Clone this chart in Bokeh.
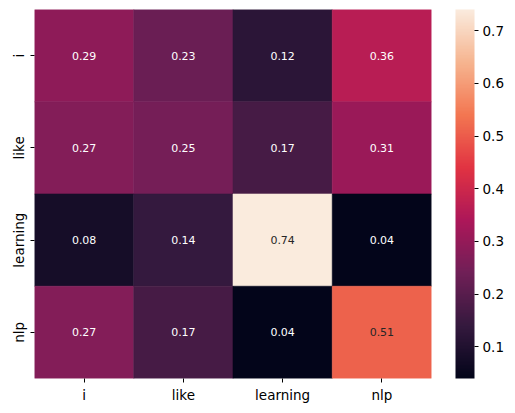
import numpy as np
from bokeh.plotting import figure
from bokeh.models import ColumnDataSource, LinearColorMapper, ColorBar, FixedTicker
from bokeh.embed import file_html
from bokeh.resources import INLINE
from bokeh.core.properties import value

# ---- data ----
tokens = ["i", "like", "learning", "nlp"]
row_i = [0.29, 0.23, 0.12, 0.36]
row_like = [0.27, 0.25, 0.17, 0.31]
row_learning = [0.08, 0.14, 0.74, 0.04]
row_nlp = [0.27, 0.17, 0.04, 0.51]
cbar_ticks = [0.1, 0.2, 0.3, 0.4, 0.5, 0.6, 0.7]

rows = [row_i, row_like, row_learning, row_nlp]

# ---- rocket-like palette ----
anchors = ["#03051a", "#35193e", "#701f57", "#ad1759", "#e13342", "#f37651", "#f6b48f", "#faebdd"]
apos = np.linspace(0, 1, len(anchors))
argb = np.array([[int(h[i:i + 2], 16) for i in (1, 3, 5)] for h in anchors], dtype=float)
t = np.linspace(0, 1, 256)
palette = []
for tt in t:
    c = [int(round(np.interp(tt, apos, argb[:, k]))) for k in range(3)]
    palette.append("#%02x%02x%02x" % tuple(c))

xs, ys, vals, labels, tcolors = [], [], [], [], []
vmin = min(min(r) for r in rows)
vmax = max(max(r) for r in rows)
for rname, r in zip(tokens, rows):
    for cname, v in zip(tokens, r):
        xs.append(cname)
        ys.append(rname)
        vals.append(v)
        labels.append("%.2f" % v)
        tcolors.append("#262626" if (v - vmin) / (vmax - vmin) > 0.6 else "white")

src = ColumnDataSource(dict(x=xs, y=ys, v=vals, lab=labels, tc=tcolors))
mapper = LinearColorMapper(palette=palette, low=vmin, high=vmax)

p = figure(x_range=tokens, y_range=list(reversed(tokens)),
           frame_width=397, frame_height=369,
           min_border_left=34, min_border_top=9, min_border_right=80, min_border_bottom=20,
           output_backend="svg", toolbar_location=None)
p.rect(x="x", y="y", width=1, height=1, source=src,
       fill_color={"field": "v", "transform": mapper},
       line_color={"field": "v", "transform": mapper}, line_width=0.6)
p.text(x="x", y="y", text="lab", source=src, text_color="tc",
       text_align="center", text_baseline="middle", text_font_size="11px",
       text_font=value("DejaVu Sans"))

p.outline_line_color = None
p.grid.grid_line_color = None
for ax in (p.xaxis, p.yaxis):
    ax.axis_line_color = None
    ax.major_tick_line_color = "black"
    ax.major_tick_out = 4
    ax.major_tick_in = 0
    ax.minor_tick_line_color = None
    ax.major_label_text_font = "DejaVu Sans"
    ax.major_label_text_font_size = "13.5px"
    ax.major_label_text_color = "black"
    ax.major_label_standoff = 4
p.yaxis.major_label_orientation = "vertical"
p.x_range.range_padding = 0
p.y_range.range_padding = 0

cb = ColorBar(color_mapper=mapper, width=19, height=369, ticker=FixedTicker(ticks=cbar_ticks),
              major_tick_out=4, major_tick_in=0, major_tick_line_color="black",
              minor_tick_line_color=None, bar_line_color=None, border_line_color=None,
              background_fill_alpha=0, major_label_text_font="DejaVu Sans",
              major_label_text_font_size="13.5px", major_label_text_color="black",
              label_standoff=4, padding=0, margin=0, location=(421, 0))
p.add_layout(cb, "center")

open("out.html", "w").write(file_html(p, INLINE))
